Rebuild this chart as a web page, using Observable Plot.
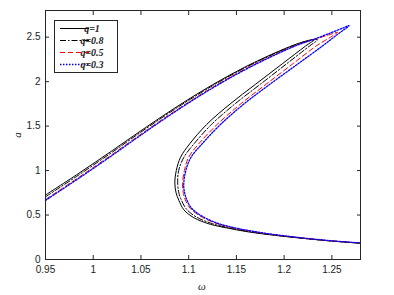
<!DOCTYPE html>
<html>
<head>
<meta charset="utf-8">
<script src="https://cdn.jsdelivr.net/npm/d3@7"></script>
<script src="https://cdn.jsdelivr.net/npm/@observablehq/plot@0.6"></script>
<style>
  html, body { margin: 0; padding: 0; background: #fff; }
  #chart { width: 394px; height: 295px; }
</style>
</head>
<body>
<div id="chart"></div>
<script>
// ---- data: [omega, a] (upper branch -> tip -> middle branch -> lower branch) ----
const q1 = [[0.95,0.725],[0.985,0.97],[1.02,1.225],[1.055,1.485],[1.09,1.735],[1.125,1.965],[1.16,2.17],[1.195,2.345],[1.215,2.43],[1.228,2.47],[1.232,2.475],
  [1.2224,2.40],[1.198,2.20],[1.170,1.97],[1.1435,1.75],[1.119,1.52],[1.101,1.30],[1.0915,1.15],[1.087,1.00],[1.0855,0.86],[1.0868,0.75],[1.0897,0.666],[1.0949,0.56],[1.1054,0.47],[1.1229,0.395],[1.14,0.355],[1.16,0.315],[1.18,0.285],[1.20,0.26],[1.225,0.232],[1.25,0.207],[1.28,0.183]];
const q08 = [[0.95,0.705],[0.985,0.952],[1.02,1.208],[1.055,1.47],[1.09,1.722],[1.125,1.954],[1.16,2.161],[1.195,2.339],[1.215,2.426],[1.229,2.468],[1.235,2.472],
  [1.2265,2.40],[1.2025,2.20],[1.175,1.97],[1.1485,1.75],[1.124,1.52],[1.1055,1.30],[1.095,1.15],[1.0895,1.00],[1.0885,0.85],[1.0898,0.745],[1.0925,0.665],[1.0978,0.565],[1.108,0.478],[1.125,0.402],[1.14,0.362],[1.16,0.32],[1.18,0.288],[1.20,0.262],[1.225,0.233],[1.25,0.208],[1.28,0.184]];
const q05 = [[0.95,0.675],[0.985,0.925],[1.02,1.183],[1.055,1.447],[1.09,1.701],[1.125,1.936],[1.16,2.146],[1.195,2.328],[1.215,2.419],[1.23,2.47],[1.245,2.52],[1.256,2.555],
  [1.250,2.51],[1.2335,2.40],[1.209,2.20],[1.181,1.97],[1.1545,1.75],[1.130,1.52],[1.1105,1.30],[1.100,1.15],[1.0955,1.00],[1.0935,0.84],[1.0945,0.74],[1.0965,0.67],[1.1012,0.58],[1.111,0.495],[1.1265,0.415],[1.14,0.373],[1.16,0.328],[1.18,0.292],[1.20,0.265],[1.225,0.235],[1.25,0.209],[1.28,0.185]];
const q03 = [[0.95,0.665],[0.985,0.914],[1.02,1.172],[1.055,1.437],[1.09,1.692],[1.125,1.928],[1.16,2.139],[1.195,2.323],[1.215,2.416],[1.231,2.475],[1.2486,2.548],[1.262,2.605],[1.268,2.63],
  [1.2545,2.52],[1.240,2.40],[1.2145,2.20],[1.185,1.97],[1.158,1.75],[1.1335,1.52],[1.114,1.30],[1.1025,1.15],[1.097,1.00],[1.0948,0.83],[1.0962,0.73],[1.0985,0.66],[1.1028,0.58],[1.112,0.50],[1.127,0.42],[1.14,0.377],[1.16,0.331],[1.18,0.295],[1.20,0.267],[1.225,0.236],[1.25,0.21],[1.28,0.186]];

const seriesNames = ["q=1", "q=0.8", "q=0.5", "q=0.3"];
const seriesData = [q1, q08, q05, q03];
const xTicks = [0.95, 1, 1.05, 1.1, 1.15, 1.2, 1.25];
const yTicks = [0, 0.5, 1, 1.5, 2, 2.5];

const styles = [
  {stroke: "#000000", dash: null, width: 1},
  {stroke: "#000000", dash: "6,2,1.5,2", width: 1},
  {stroke: "#ff0000", dash: "5,3", width: 1},
  {stroke: "#0000ff", dash: "1.5,1.5", width: 1.3}
];

const axisColor = "#262626";
const lineMarks = seriesData.map((d, i) => Plot.line(d, {
  x: p => p[0], y: p => p[1], curve: "catmull-rom",
  stroke: styles[i].stroke, strokeWidth: styles[i].width,
  strokeDasharray: styles[i].dash
}));

const svg = Plot.plot({
  width: 394, height: 295,
  marginLeft: 45, marginRight: 34, marginTop: 10, marginBottom: 36,
  style: {fontFamily: "'Liberation Sans', Arial, sans-serif", fontSize: "10px", color: axisColor, background: "#fff"},
  x: {domain: [0.95, 1.28]},
  y: {domain: [0, 2.8]},
  marks: [
    ...lineMarks,
    Plot.frame({stroke: axisColor, strokeWidth: 1}),
    Plot.axisX(xTicks, {anchor: "bottom", tickSize: 0, tickPadding: 6, label: null, tickFormat: d => String(d), fill: "#222"}),
    Plot.axisX(xTicks, {anchor: "bottom", tickSize: -4, tickFormat: () => "", label: null, stroke: axisColor}),
    Plot.axisX(xTicks, {anchor: "top", tickSize: -4, tickFormat: () => "", label: null, stroke: axisColor}),
    Plot.axisY(yTicks, {anchor: "left", tickSize: 0, tickPadding: 5, label: null, tickFormat: d => String(d), fill: "#222"}),
    Plot.axisY(yTicks, {anchor: "left", tickSize: -4, tickFormat: () => "", label: null, stroke: axisColor}),
    Plot.axisY(yTicks, {anchor: "right", tickSize: -4, tickFormat: () => "", label: null, stroke: axisColor})
  ]
});

const s = d3.select(svg);
// axis titles
s.append("text").attr("x", 202).attr("y", 290).attr("text-anchor", "middle")
  .attr("font-family", "'Liberation Serif', 'Times New Roman', serif").attr("font-style", "italic")
  .attr("font-size", 11).attr("fill", "#222").text("ω");
s.append("text").attr("transform", "translate(21,135) rotate(-90)").attr("text-anchor", "middle")
  .attr("font-family", "'Liberation Serif', 'Times New Roman', serif").attr("font-style", "italic")
  .attr("font-size", 11).attr("fill", "#222").text("a");

// legend
const lg = s.append("g");
lg.append("rect").attr("x", 54.5).attr("y", 20.5).attr("width", 63).attr("height", 52)
  .attr("fill", "#fff").attr("stroke", axisColor).attr("stroke-width", 1);
seriesNames.forEach((name, i) => {
  const yy = 28.5 + i * 12;
  lg.append("line").attr("x1", 60).attr("x2", 89).attr("y1", yy).attr("y2", yy)
    .attr("stroke", styles[i].stroke).attr("stroke-width", styles[i].width)
    .attr("stroke-dasharray", styles[i].dash);
  lg.append("text").attr("x", 92).attr("y", yy + 3.5)
    .attr("font-family", "'Liberation Serif', 'Times New Roman', serif")
    .attr("font-style", "italic").attr("font-weight", "bold")
    .attr("font-size", 10).attr("fill", "#222").text(name);
});

document.getElementById("chart").appendChild(svg);
</script>
</body>
</html>
